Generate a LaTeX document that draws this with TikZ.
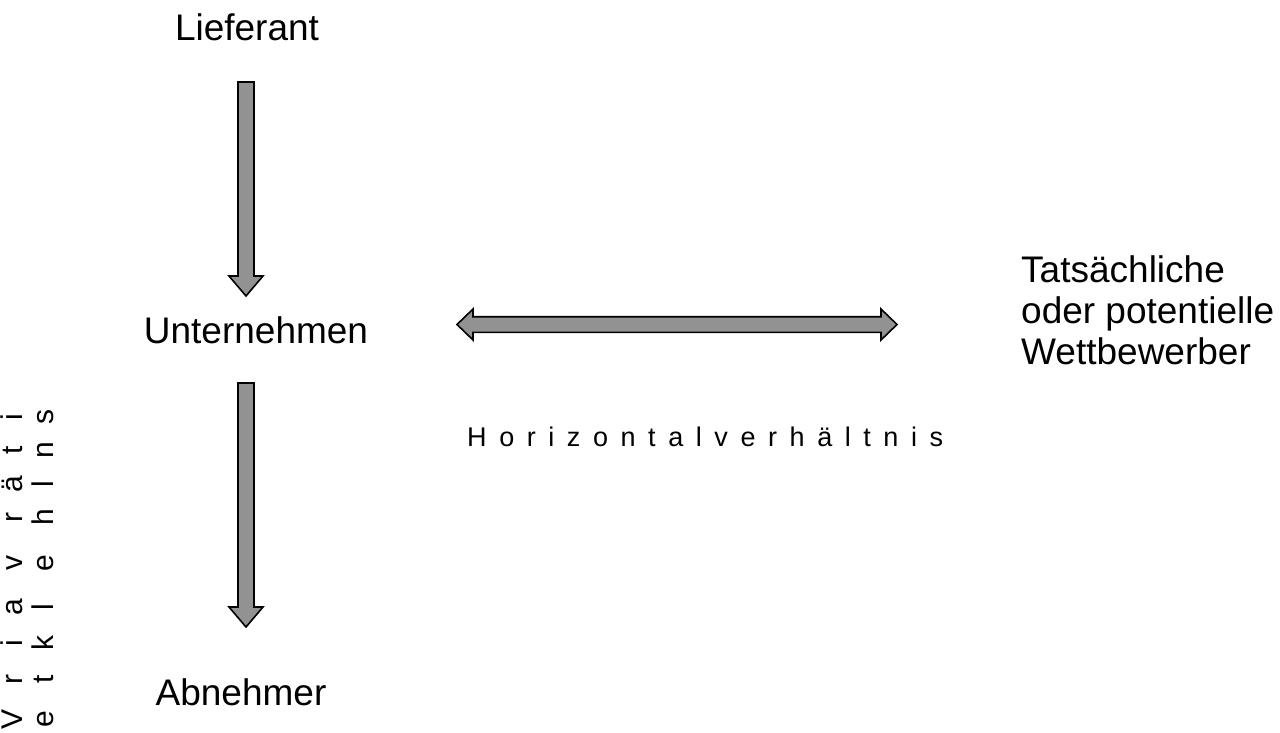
\documentclass[tikz,border=0pt]{standalone}
\usepackage{fontspec}
\setmainfont{Liberation Sans}
\usetikzlibrary{calc}
\definecolor{arrowgray}{RGB}{146,146,146}
\begin{document}
\begin{tikzpicture}[x=1pt,y=-1pt,
  lbl/.style={font=\fontsize{37}{41}\selectfont, inner sep=0pt},
  small/.style={font=\fontsize{27}{30}\selectfont, inner sep=0pt},
  vsmall/.style={font=\fontsize{30}{33}\selectfont, inner sep=0pt, rotate=90, anchor=base},
  blockarrow/.style={draw=black, line width=1.6pt, fill=arrowgray, line join=miter}]
\useasboundingbox (0,0) rectangle (1280,732);

% labels
\node[lbl, anchor=base] (lief) at (247,40) {Lieferant};
\node[lbl, anchor=base] (unt) at (256,343) {Unternehmen};
\node[lbl, anchor=base] (abn) at (241,705) {Abnehmer};
\node[lbl, anchor=base west] (wett1) at (1021,282) {Tatsächliche};
\node[lbl, anchor=base west] (wett2) at (1021,323) {oder potentielle};
\node[lbl, anchor=base west] (wett3) at (1021,364) {Wettbewerber};
\node[small, anchor=base west] (horiz) at (467,446)
  {\makebox[476pt][s]{H o r i z o n t a l v e r h ä l t n i s}};

% vertical label, letters in two columns
\foreach \y/\a/\b [count=\i] in {719/V/e, 679/r/t, 643/i/k, 607/a/l, 563/v/e, 517/r/h, 484/ä/l, 450/t/n, 417/i/s} {
  \node[vsmall] (vl\i) at (23,\y) {\a};
  \node[vsmall] (vr\i) at (53,\y) {\b};
}

% arrow Lieferant -> Unternehmen
\coordinate (v1top) at (246,82);
\coordinate (v1tip) at (246,296);
\draw[blockarrow] ($(v1top)+(-8,0)$) -- ($(v1top)+(8,0)$) -- ($(v1tip)+(8,-20)$)
  -- ($(v1tip)+(17,-20)$) -- (v1tip) -- ($(v1tip)+(-17,-20)$) -- ($(v1tip)+(-8,-20)$) -- cycle;

% arrow Unternehmen -> Abnehmer
\coordinate (v2top) at (246,383);
\coordinate (v2tip) at (246,627);
\draw[blockarrow] ($(v2top)+(-8,0)$) -- ($(v2top)+(8,0)$) -- ($(v2tip)+(8,-20)$)
  -- ($(v2tip)+(17,-20)$) -- (v2tip) -- ($(v2tip)+(-17,-20)$) -- ($(v2tip)+(-8,-20)$) -- cycle;

% double arrow Unternehmen <-> Wettbewerber
\coordinate (hl) at (457,324.5);
\coordinate (hr) at (897,324.5);
\draw[blockarrow] (hl) -- ($(hl)+(16,-15.5)$) -- ($(hl)+(16,-7.8)$) -- ($(hr)+(-16,-7.8)$)
  -- ($(hr)+(-16,-15.5)$) -- (hr) -- ($(hr)+(-16,15.5)$) -- ($(hr)+(-16,7.8)$)
  -- ($(hl)+(16,7.8)$) -- ($(hl)+(16,15.5)$) -- cycle;
\end{tikzpicture}
\end{document}
